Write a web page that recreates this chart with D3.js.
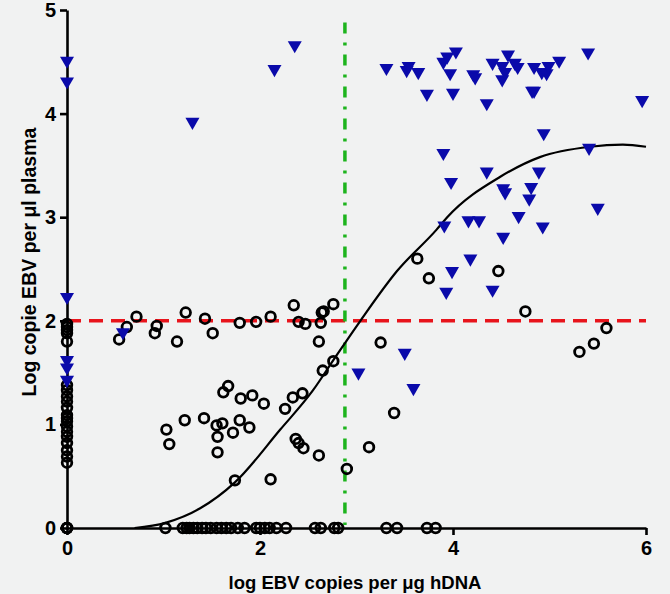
<!DOCTYPE html>
<html>
<head>
<meta charset="utf-8">
<script src="https://cdn.jsdelivr.net/npm/d3@7"></script>
<style>
  body { margin: 0; background: #f1f2f2; }
  svg { display: block; font-family: "Liberation Sans", Arial, sans-serif; }
  .axis path, .axis line { stroke: #000; stroke-width: 2.6; }
  .axis text { font-size: 20px; font-weight: bold; fill: #000; }
  .title { font-size: 18.5px; font-weight: bold; fill: #000; }
</style>
</head>
<body>
<svg></svg>
<script>
// circles: [log EBV per ug hDNA, log EBV per ul plasma]
const circleX = [0,0,0,0,0, 0,0,0,0,0, 0,0,0,0,0,0,0,0,0,0, 0,0,0,
  0.54,0.62,0.72,0.91,0.93,1.14,1.23,1.43,1.51,1.79,1.96,2.11,2.35,2.40,2.47,2.63,2.64,2.66,2.76,2.61,2.65,2.76,
  1.62,1.67,1.80,1.92,2.04,2.26,2.34,2.44,1.03,1.06,1.22,1.42,1.55,1.61,1.79,1.89,1.72,1.56,1.56,2.37,2.40,2.45,2.61,2.90,1.74,2.11,
  3.63,3.75,4.47,4.75,3.25,5.31,5.46,5.59,3.39,3.13,
  1.02,1.20,1.24,1.27,1.31,1.35,1.40,1.44,1.49,1.55,1.60,1.65,1.70,1.77,1.84,1.96,2.00,2.05,2.10,2.17,2.27,2.57,2.63,2.77,2.81,3.31,3.42,3.73,3.82];
const circleY = [1.97,1.94,1.91,1.88,1.80, 1.38,1.33,1.27,1.22,1.16, 1.09,1.06,1.03,0.98,0.93,0.88,0.82,0.75,0.69,0.63, 0,0,0,
  1.82,1.94,2.04,1.88,1.95,1.80,2.08,2.02,1.88,1.98,1.99,2.04,2.15,1.99,1.97,1.98,2.08,2.09,2.16,1.80,1.52,1.61,
  1.31,1.37,1.25,1.28,1.20,1.15,1.26,1.30,0.95,0.81,1.04,1.06,0.99,1.01,1.04,0.97,0.92,0.88,0.73,0.86,0.82,0.77,0.70,0.57,0.46,0.47,
  2.60,2.41,2.48,2.09,1.79,1.70,1.78,1.93,1.11,0.78,
  0,0,0,0,0,0,0,0,0,0,0,0,0,0,0,0,0,0,0,0,0,0,0,0,0,0,0,0,0];

// triangles
const triX = [0,0,0,0,0,0, 0.58,1.30,2.15,2.36,
  3.31,3.52,3.54,3.64,3.73,3.90,3.94,4.03,3.97,4.00,4.21,4.23,4.35,4.41,4.51,4.54,4.51,4.57,4.64,4.67,4.84,4.82,4.84,4.92,4.97,4.99,5.10,5.40,5.96,
  4.94,3.90,3.98,4.35,4.52,4.54,4.89,4.81,4.79,4.68,5.41,5.50,3.91,4.16,4.27,4.93,4.52,4.18,3.99,3.93,4.41,3.50,3.02,3.59];
const triY = [4.51,4.31,2.23,1.62,1.55,1.43, 1.89,3.92,4.43,4.66,
  4.44,4.42,4.46,4.40,4.19,4.50,4.55,4.60,4.39,4.20,4.38,4.35,4.10,4.49,4.46,4.40,4.33,4.57,4.49,4.45,4.45,4.22,4.22,4.40,4.39,4.46,4.51,4.59,4.13,
  3.81,3.62,3.34,3.44,3.28,3.24,3.44,3.29,3.18,3.01,3.67,3.09,2.92,2.97,2.97,2.91,2.81,2.60,2.48,2.28,2.30,1.69,1.50,1.35];

// fitted curve
const fitX = [0.70,1.02,1.38,1.74,2.21,2.55,2.76,3.04,3.42,3.83,3.94,4.49,4.90,5.42,5.76,6.00];
const fitY = [0.00,0.05,0.19,0.44,0.95,1.33,1.62,2.00,2.48,2.88,3.00,3.39,3.58,3.68,3.70,3.68];

const xTicks = [0, 2, 4, 6];
const yTicks = [0, 1, 2, 3, 4, 5];
const plasmaCut = 2;
const dnaCut = 2.88;

const width = 670, height = 594;
const svg = d3.select('svg').attr('width', width).attr('height', height);

const x = d3.scaleLinear().domain([0, 6]).range([67, 646]);
const y = d3.scaleLinear().domain([0, 5]).range([528, 10]);

// reference lines
svg.append('line')
  .attr('x1', x(0)).attr('x2', x(6))
  .attr('y1', y(plasmaCut)).attr('y2', y(plasmaCut))
  .attr('stroke', '#e8141c').attr('stroke-width', 3.5)
  .attr('stroke-dasharray', '14,8');

svg.append('line')
  .attr('x1', x(dnaCut)).attr('x2', x(dnaCut))
  .attr('y1', y(4.88)).attr('y2', y(0.03))
  .attr('stroke', '#1db41d').attr('stroke-width', 3.5)
  .attr('stroke-dasharray', '11,9,3,9');

// axes
const xAxis = svg.append('g').attr('class', 'axis')
  .attr('transform', `translate(0,${y(0)})`)
  .call(d3.axisBottom(x).tickValues(xTicks).tickFormat(d3.format('d')).tickSize(7).tickSizeOuter(0));
xAxis.selectAll('text').attr('dy', '0.85em');

const yAxis = svg.append('g').attr('class', 'axis')
  .attr('transform', `translate(${x(0)},0)`)
  .call(d3.axisLeft(y).tickValues(yTicks).tickFormat(d3.format('d')).tickSize(7).tickSizeOuter(0));
yAxis.selectAll('text').attr('dx', '-0.05em');

// curve
svg.append('path')
  .datum(d3.range(fitX.length))
  .attr('fill', 'none').attr('stroke', '#000').attr('stroke-width', 2.2)
  .attr('d', d3.line().x(i => x(fitX[i])).y(i => y(fitY[i])).curve(d3.curveMonotoneX));

// circles
svg.append('g').selectAll('circle')
  .data(d3.range(circleX.length))
  .join('circle')
  .attr('cx', i => x(circleX[i]))
  .attr('cy', i => y(circleY[i]))
  .attr('r', 4.8)
  .attr('fill', 'none')
  .attr('stroke', '#000')
  .attr('stroke-width', 2.8);

// triangles
const tri = d3.symbol().type(d3.symbolTriangle).size(85);
svg.append('g').selectAll('path')
  .data(d3.range(triX.length))
  .join('path')
  .attr('d', tri)
  .attr('transform', i => `translate(${x(triX[i])},${y(triY[i])}) rotate(180)`)
  .attr('fill', '#0a0aaa');

// titles
svg.append('text').attr('class', 'title')
  .attr('x', 355).attr('y', 589)
  .attr('text-anchor', 'middle')
  .text('log EBV copies per μg hDNA');

svg.append('text').attr('class', 'title')
  .attr('transform', 'translate(36,262) rotate(-90)')
  .attr('text-anchor', 'middle')
  .style('font-size', '19.5px')
  .text('Log copie EBV per μl plasma');
</script>
</body>
</html>
